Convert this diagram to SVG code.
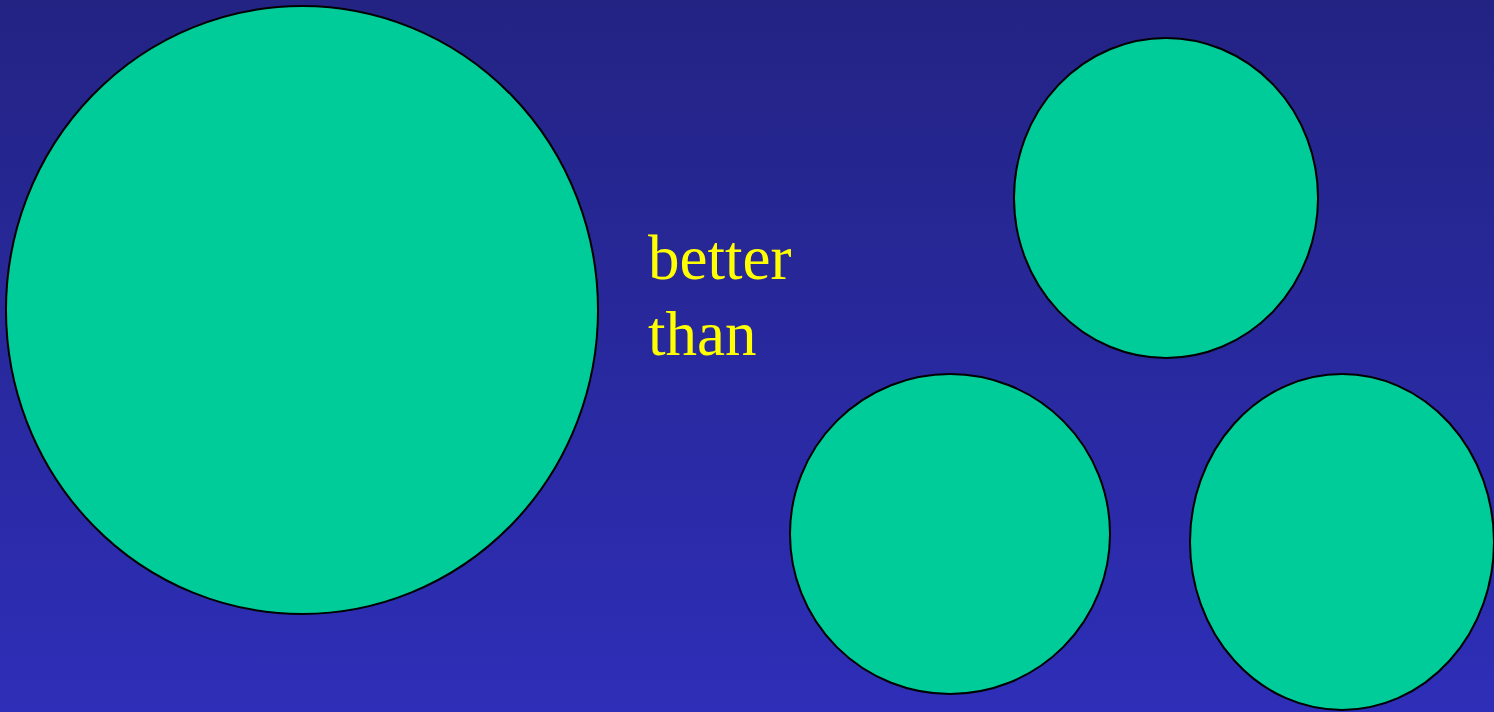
<svg xmlns="http://www.w3.org/2000/svg" width="1494" height="712" viewBox="0 0 1494 712">
<defs>
<linearGradient id="bg" x1="0" y1="0" x2="0" y2="1">
<stop offset="0" stop-color="#232384"/>
<stop offset="1" stop-color="#2e2eb8"/>
</linearGradient>
</defs>
<style>
.c{fill:#00CC99;stroke:#000;stroke-width:2}
.t{font-family:"Liberation Serif","Times New Roman",serif;font-size:63px;fill:#FFFF00}
</style>
<rect width="1494" height="712" fill="url(#bg)"/>
<g id="big"><ellipse class="c" cx="302" cy="310" rx="296" ry="304"/></g>
<g id="top-right"><ellipse class="c" cx="1166" cy="198" rx="152" ry="160"/></g>
<g id="bottom-middle"><ellipse class="c" cx="950" cy="534" rx="160" ry="160"/></g>
<g id="bottom-right"><ellipse class="c" cx="1342" cy="542" rx="152" ry="168"/></g>
<g id="label">
<text class="t" x="648" y="279">better</text>
<text class="t" x="648" y="355">than</text>
</g>
<g id="connectors"/>
</svg>
